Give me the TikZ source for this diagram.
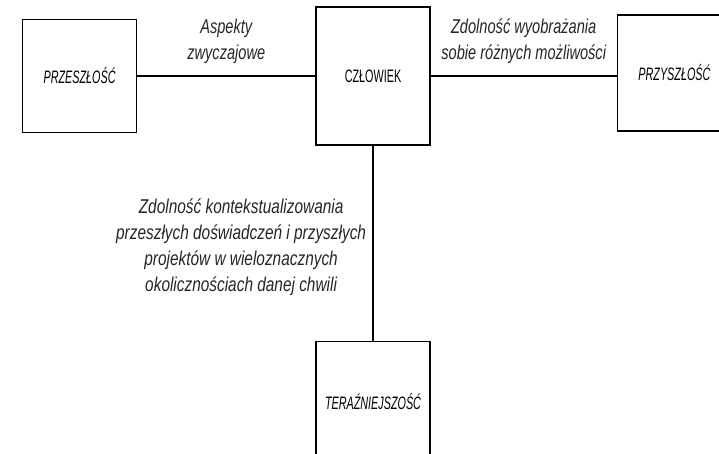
\documentclass[tikz,border=0pt]{standalone}
\usepackage{fontspec}
\setmainfont{Liberation Sans}[FakeStretch=0.73]
\newfontfamily\boxfont{Liberation Sans}[FakeStretch=0.6]
\newfontfamily\longfont{Liberation Sans}[FakeStretch=0.77]
\usetikzlibrary{positioning}

\begin{document}
\begin{tikzpicture}[x=1pt, y=-1pt, line width=1.2pt, auto,
  main node/.style={rectangle, draw, line width=1.4pt, minimum width=114pt, font=\boxfont\fontsize{18}{20}\selectfont},
  time node/.style={main node, font=\boxfont\fontsize{18}{20}\selectfont\itshape},
  label node/.style={align=center, font=\fontsize{20}{26}\selectfont\itshape, text=black!85},
  long label/.style={label node, font=\longfont\fontsize{20}{25.7}\selectfont\itshape}]
  \useasboundingbox (0,0) rectangle (719,454);

  % Define nodes
  \node[main node, minimum height=138pt] (czl) at (373,76) {CZŁOWIEK};
  \node[time node, minimum height=113pt] (prz) [left=178pt of czl] {PRZESZŁOŚĆ};
  \node[time node, minimum height=116pt] (przy) [right=186pt of czl, yshift=3pt] {PRZYSZŁOŚĆ};
  \node[time node, minimum height=120pt] (ter) [below=195pt of czl] {TERAŹNIEJSZOŚĆ};

  % Define edges with labels
  \path[-]
    (prz) edge node[label node, above=8pt] {Aspekty\\zwyczajowe} (czl)
    (czl.east) edge node[label node, above=8pt] {Zdolność wyobrażania\\sobie różnych możliwości} (czl.east -| przy.west)
    (czl) edge node[long label, left=3pt, yshift=-4pt] {Zdolność kontekstualizowania\\przeszłych doświadczeń i przyszłych\\projektów w wieloznacznych\\okolicznościach danej chwili} (ter);
\end{tikzpicture}
\end{document}
